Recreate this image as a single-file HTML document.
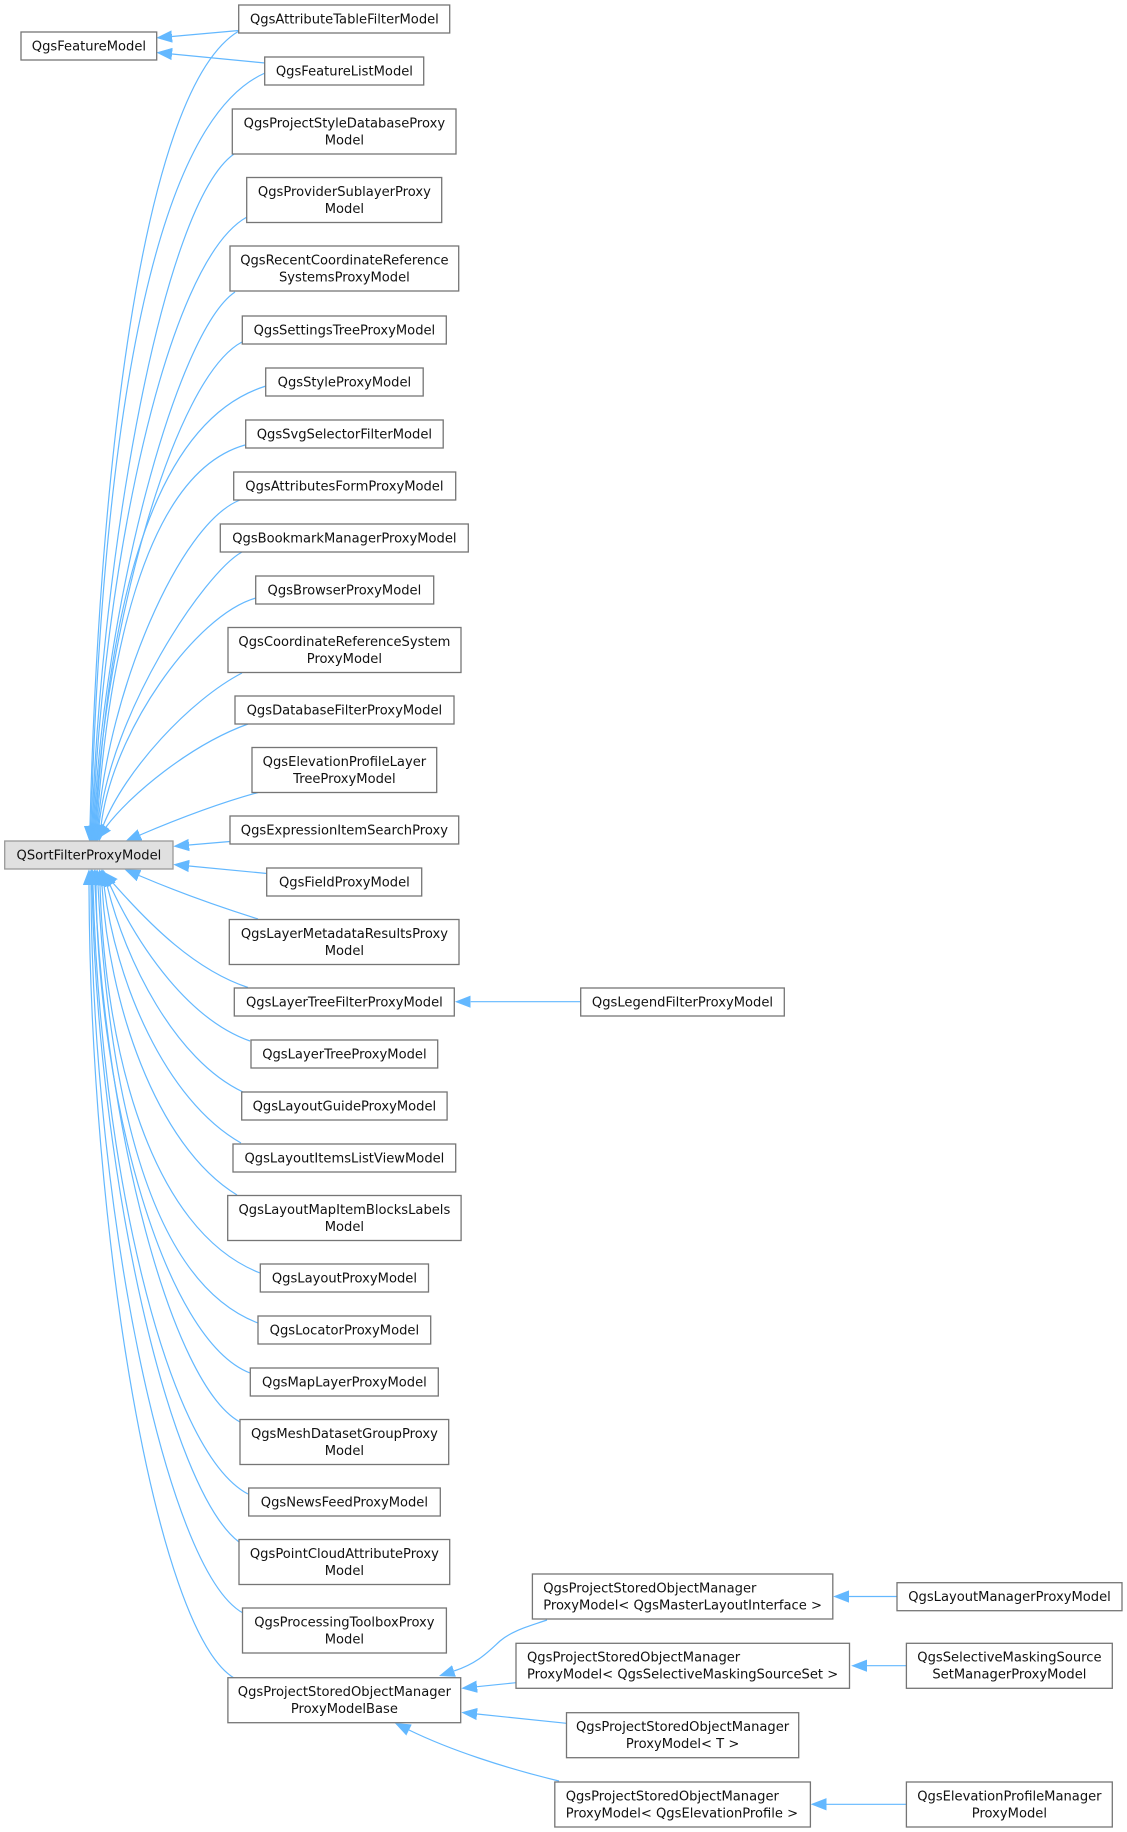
<!DOCTYPE html>
<html><head><meta charset="utf-8"><title>Inheritance diagram</title>
<style>
html,body{margin:0;padding:0;background:#fff;width:1127px;height:1832px;overflow:hidden}
svg{display:block;filter:blur(.3px)}
text{font-family:"DejaVu Sans",sans-serif;font-size:13.1px;fill:#111}
.m{text-anchor:middle}
rect{fill:#fff;stroke:#757575;stroke-width:1.3}
path.e{fill:none;stroke:#63b8ff;stroke-width:1.2;marker-start:url(#a)}
</style></head><body>
<svg xmlns="http://www.w3.org/2000/svg" width="1127" height="1832" viewBox="0 0 1127 1832">
<defs><marker id="a" markerUnits="userSpaceOnUse" markerWidth="16" markerHeight="13" viewBox="0 -6.5 16 13" refX="0" refY="0" orient="auto-start-reverse"><path d="M0,-5.8L15,0L0,5.8Z" fill="#63b8ff" stroke="#63b8ff" stroke-width=".6"/></marker></defs>
<g>
<path class="e" d="M172,36.5L239,30.5"/>
<path class="e" d="M172,54L265,63"/>
<path class="e" d="M90,826C98,500 138,90 239,31"/>
<path class="e" d="M91,826C100,517 136,130 265,73"/>
<path class="e" d="M92,826C102,550 163,204 234,154"/>
<path class="e" d="M93,826C103,576 165,262 247,217"/>
<path class="e" d="M94,826C104,607 176,332 235,292"/>
<path class="e" d="M95,826C105,628 174,378 242,342"/>
<path class="e" d="M96,826C106,646 140,425 266,386"/>
<path class="e" d="M97,826C107,670 142,474 245,445"/>
<path class="e" d="M98,826C108,692 179,524 240,500"/>
<path class="e" d="M99,826C110,714 204,573 242,552"/>
<path class="e" d="M101,826C112,733 195,615 256,598"/>
<path class="e" d="M103,826C125,770 190,700 242,673"/>
<path class="e" d="M106,827C130,795 190,745 248,724"/>
<path class="e" d="M140,835C180,818 220,803 258,792.5"/>
<path class="e" d="M189,845L230,841.5"/>
<path class="e" d="M189,866L267,873.5"/>
<path class="e" d="M139,875.5C180,893 220,907 258,919"/>
<path class="e" d="M113,883C150,925 195,970 248,987.5"/>
<path class="e" d="M110,885C140,950 190,1020 250,1041"/>
<path class="e" d="M107,885C125,960 175,1060 243,1092"/>
<path class="e" d="M104,885C115,980 165,1100 241,1143"/>
<path class="e" d="M102,885C108,1000 155,1145 237,1195"/>
<path class="e" d="M100,885C105,1050 150,1230 260,1273"/>
<path class="e" d="M98,885C108,1080 145,1280 258,1323"/>
<path class="e" d="M96,885C98,1100 165,1340 250,1373"/>
<path class="e" d="M95,885C105,1130 172,1385 240,1422"/>
<path class="e" d="M93,885C100,1160 165,1450 248,1494"/>
<path class="e" d="M92,885C98,1180 170,1490 239,1542"/>
<path class="e" d="M91,885C92,1200 165,1570 243,1613"/>
<path class="e" d="M89,885C90,1230 155,1630 234,1678"/>
<path class="e" d="M470.7,1001.7L581,1001.7"/>
<path class="e" d="M454,1671C478,1663 488,1652 500,1641C513,1630 530,1626 547,1620"/>
<path class="e" d="M477,1686.7L516,1682.7"/>
<path class="e" d="M477,1714L566.5,1723.3"/>
<path class="e" d="M409,1730C450,1750 505,1768 559,1781"/>
<path class="e" d="M849,1596.5L897,1596.5"/>
<path class="e" d="M867,1665.7L906.4,1665.7"/>
<path class="e" d="M826.5,1804.3L906.4,1804.3"/>
</g>
<g>
<rect x="21" y="32" width="135.7" height="28"/><text class="m" x="88.9" y="50.5">QgsFeatureModel</text>
<rect x="4.7" y="841" width="168.3" height="28" style="fill:#e0e0e0;stroke:#999"/><text class="m" x="88.9" y="859.5">QSortFilterProxyModel</text>

<rect x="238.7" y="5" width="211" height="28"/><text class="m" x="344.4" y="23.5">QgsAttributeTableFilterModel</text>
<rect x="264.7" y="57" width="159" height="28"/><text class="m" x="344.4" y="75.5">QgsFeatureListModel</text>
<rect x="232.3" y="109" width="223.7" height="45"/><text class="m" x="344.4" y="127.3">QgsProjectStyleDatabaseProxy</text><text class="m" x="344.4" y="144.3">Model</text>
<rect x="246.7" y="177.5" width="195" height="45"/><text class="m" x="344.4" y="195.8">QgsProviderSublayerProxy</text><text class="m" x="344.4" y="212.8">Model</text>
<rect x="230" y="246" width="228.7" height="45"/><text class="m" x="344.4" y="264.3">QgsRecentCoordinateReference</text><text class="m" x="344.4" y="281.3">SystemsProxyModel</text>
<rect x="242.3" y="316" width="204" height="28"/><text class="m" x="344.4" y="334.5">QgsSettingsTreeProxyModel</text>
<rect x="265.7" y="368" width="157.5" height="28"/><text class="m" x="344.4" y="386.5">QgsStyleProxyModel</text>
<rect x="245.7" y="420" width="197.5" height="28"/><text class="m" x="344.4" y="438.5">QgsSvgSelectorFilterModel</text>
<rect x="233.7" y="472" width="222" height="28"/><text class="m" x="344.4" y="490.5">QgsAttributesFormProxyModel</text>
<rect x="220.3" y="524" width="248" height="28"/><text class="m" x="344.4" y="542.5">QgsBookmarkManagerProxyModel</text>
<rect x="255.7" y="576" width="178" height="28"/><text class="m" x="344.4" y="594.5">QgsBrowserProxyModel</text>
<rect x="228" y="627.5" width="233" height="45"/><text class="m" x="344.4" y="645.8">QgsCoordinateReferenceSystem</text><text class="m" x="344.4" y="662.8">ProxyModel</text>
<rect x="235" y="696" width="219" height="28"/><text class="m" x="344.4" y="714.5">QgsDatabaseFilterProxyModel</text>
<rect x="252" y="747.5" width="184.7" height="45"/><text class="m" x="344.4" y="765.8">QgsElevationProfileLayer</text><text class="m" x="344.4" y="782.8">TreeProxyModel</text>
<rect x="230" y="816" width="228.7" height="28"/><text class="m" x="344.4" y="834.5">QgsExpressionItemSearchProxy</text>
<rect x="266.7" y="868" width="155" height="28"/><text class="m" x="344.4" y="886.5">QgsFieldProxyModel</text>
<rect x="229.3" y="919.5" width="229.7" height="45"/><text class="m" x="344.4" y="937.8">QgsLayerMetadataResultsProxy</text><text class="m" x="344.4" y="954.8">Model</text>
<rect x="234.3" y="988" width="220" height="28"/><text class="m" x="344.4" y="1006.5">QgsLayerTreeFilterProxyModel</text>
<rect x="251" y="1040" width="186.7" height="28"/><text class="m" x="344.4" y="1058.5">QgsLayerTreeProxyModel</text>
<rect x="241.7" y="1092" width="205.4" height="28"/><text class="m" x="344.4" y="1110.5">QgsLayoutGuideProxyModel</text>
<rect x="233" y="1144" width="222.7" height="28"/><text class="m" x="344.4" y="1162.5">QgsLayoutItemsListViewModel</text>
<rect x="227.7" y="1195.5" width="233.4" height="45"/><text class="m" x="344.4" y="1213.8">QgsLayoutMapItemBlocksLabels</text><text class="m" x="344.4" y="1230.8">Model</text>
<rect x="260.3" y="1264" width="168.2" height="28"/><text class="m" x="344.4" y="1282.5">QgsLayoutProxyModel</text>
<rect x="258" y="1316" width="172.7" height="28"/><text class="m" x="344.4" y="1334.5">QgsLocatorProxyModel</text>
<rect x="250.3" y="1368" width="188" height="28"/><text class="m" x="344.4" y="1386.5">QgsMapLayerProxyModel</text>
<rect x="240" y="1419.5" width="208.7" height="45"/><text class="m" x="344.4" y="1437.8">QgsMeshDatasetGroupProxy</text><text class="m" x="344.4" y="1454.8">Model</text>
<rect x="248.7" y="1488" width="191.6" height="28"/><text class="m" x="344.4" y="1506.5">QgsNewsFeedProxyModel</text>
<rect x="239" y="1539.5" width="210.7" height="45"/><text class="m" x="344.4" y="1557.8">QgsPointCloudAttributeProxy</text><text class="m" x="344.4" y="1574.8">Model</text>
<rect x="242.5" y="1608" width="203.9" height="45"/><text class="m" x="344.4" y="1626.3">QgsProcessingToolboxProxy</text><text class="m" x="344.4" y="1643.3">Model</text>
<rect x="227.9" y="1677.7" width="232.8" height="45"/><text class="m" x="344.4" y="1696">QgsProjectStoredObjectManager</text><text class="m" x="344.4" y="1713">ProxyModelBase</text>

<rect x="580.7" y="988" width="203.6" height="28"/><text class="m" x="682.5" y="1006.5">QgsLegendFilterProxyModel</text>

<rect x="532.4" y="1574" width="300.4" height="45"/><text x="543.2" y="1592.3">QgsProjectStoredObjectManager</text><text x="543.2" y="1609.3">ProxyModel&lt; QgsMasterLayoutInterface &gt;</text>
<rect x="516" y="1643.3" width="333.5" height="45"/><text x="527" y="1661.6">QgsProjectStoredObjectManager</text><text x="527" y="1678.6">ProxyModel&lt; QgsSelectiveMaskingSourceSet &gt;</text>
<rect x="566.5" y="1712.7" width="232.2" height="45"/><text class="m" x="682.6" y="1731">QgsProjectStoredObjectManager</text><text class="m" x="682.6" y="1748">ProxyModel&lt; T &gt;</text>
<rect x="554.8" y="1782" width="255.6" height="45"/><text x="565.7" y="1800.3">QgsProjectStoredObjectManager</text><text x="565.7" y="1817.3">ProxyModel&lt; QgsElevationProfile &gt;</text>

<rect x="897" y="1582.7" width="225" height="28"/><text class="m" x="1009.5" y="1601.2">QgsLayoutManagerProxyModel</text>
<rect x="906.4" y="1643.3" width="205.9" height="45"/><text class="m" x="1009.4" y="1661.6">QgsSelectiveMaskingSource</text><text class="m" x="1009.4" y="1678.6">SetManagerProxyModel</text>
<rect x="906.4" y="1782" width="205.9" height="45"/><text class="m" x="1009.4" y="1800.3">QgsElevationProfileManager</text><text class="m" x="1009.4" y="1817.3">ProxyModel</text>
</g>
</svg>
</body></html>
